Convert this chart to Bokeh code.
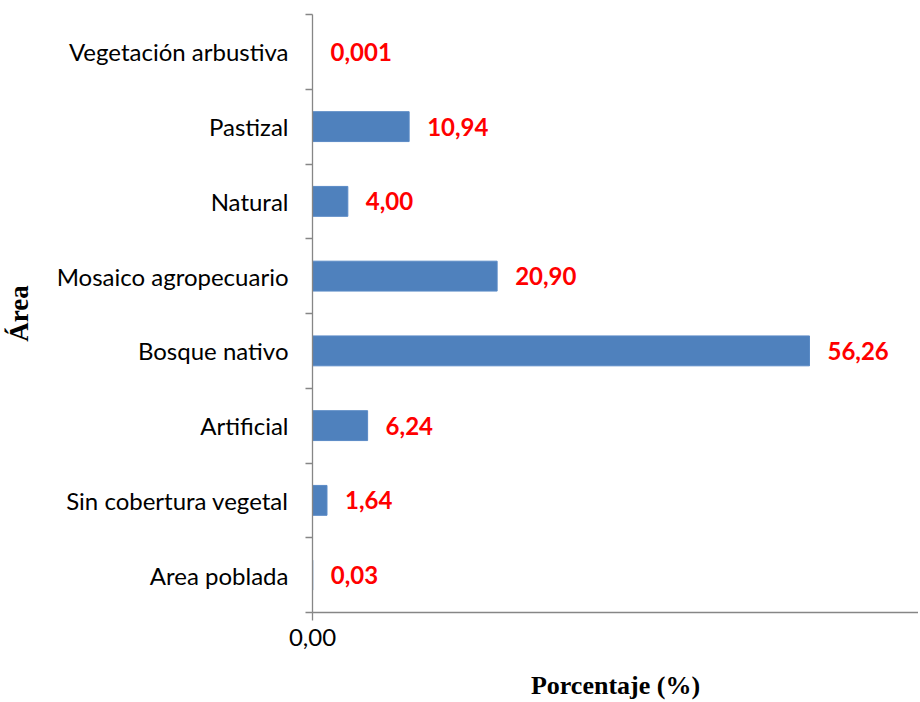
from bokeh.plotting import figure
from bokeh.models import Range1d, LinearAxis, FixedTicker, ColumnDataSource
from bokeh.core.properties import value
from bokeh.embed import file_html
from bokeh.resources import INLINE

# Data (bottom to top)
categories = ["Area poblada", "Sin cobertura vegetal", "Artificial", "Bosque nativo",
              "Mosaico agropecuario", "Natural", "Pastizal", "Vegetación arbustiva"]
percentages = [0.03, 1.64, 6.24, 56.26, 20.90, 4.00, 10.94, 0.001]
value_labels = ["0,03", "1,64", "6,24", "56,26", "20,90", "4,00", "10,94", "0,001"]
x_ticks = [0]
x_tick_labels = {0: "0,00"}

AXIS_COLOR = "#868686"
BAR_COLOR = "#4F81BD"
LABEL_FONT = "Lato"

n = len(categories)
centers = [i + 0.5 for i in range(n)]
src = ColumnDataSource(dict(y=centers, val=percentages, lab=value_labels))

p = figure(width=918, height=702,
           y_range=Range1d(0, n),
           x_range=Range1d(0, 68.6),
           y_axis_location=None,
           output_backend="svg", toolbar_location=None,
           min_border_left=312, min_border_right=0, min_border_top=14,
           min_border_bottom=85)
p.outline_line_color = None
p.xgrid.visible = False
p.ygrid.visible = False
p.background_fill_color = "white"
p.border_fill_color = "white"

# Inner axis: tick marks at category boundaries
tick_axis = LinearAxis(ticker=FixedTicker(ticks=list(range(n + 1))),
                       major_label_text_font_size="0px", major_label_standoff=0,
                       major_label_overrides={i: "" for i in range(n + 1)},
                       major_tick_out=7, major_tick_in=0,
                       minor_tick_out=0, minor_tick_in=0,
                       axis_line_color=AXIS_COLOR, major_tick_line_color=AXIS_COLOR,
                       axis_line_width=1.3, major_tick_line_width=1.3)
p.add_layout(tick_axis, "left")

# Outer axis: category labels
cat_axis = LinearAxis(ticker=FixedTicker(ticks=centers),
                      major_label_overrides={c: name for c, name in zip(centers, categories)},
                      axis_line_color=None, major_tick_line_color=None,
                      major_tick_out=0, major_tick_in=0,
                      minor_tick_out=0, minor_tick_in=0, minor_tick_line_color=None,
                      major_label_standoff=17,
                      major_label_text_font=LABEL_FONT,
                      major_label_text_font_size="24px",
                      major_label_text_color="black",
                      axis_label="Área",
                      axis_label_text_font="Liberation Serif",
                      axis_label_text_font_style="bold",
                      axis_label_text_font_size="27px",
                      axis_label_text_color="black",
                      axis_label_standoff=20)
p.add_layout(cat_axis, "left")

# X axis
xa = p.xaxis[0]
xa.ticker = FixedTicker(ticks=x_ticks)
xa.major_label_overrides = x_tick_labels
xa.major_tick_out = 8
xa.major_tick_in = 0
xa.minor_tick_out = 0
xa.minor_tick_in = 0
xa.axis_line_color = AXIS_COLOR
xa.major_tick_line_color = AXIS_COLOR
xa.axis_line_width = 1.3
xa.major_tick_line_width = 1.3
xa.major_label_text_font = LABEL_FONT
xa.major_label_text_font_size = "24px"
xa.major_label_text_color = "black"
xa.major_label_standoff = 8
xa.axis_label = "Porcentaje (%)"
xa.axis_label_text_font = "Liberation Serif"
xa.axis_label_text_font_style = "bold"
xa.axis_label_text_font_size = "26px"
xa.axis_label_text_color = "black"
xa.axis_label_standoff = 22

p.hbar(y="y", right="val", left=0, height=0.4, source=src,
       fill_color=BAR_COLOR, line_color="#5A8AC6", line_width=1)

p.text(x="val", y="y", text="lab", source=src, x_offset=18,
       text_font=value(LABEL_FONT), text_font_style="bold",
       text_font_size="24px", text_color="#FF0000",
       text_baseline="middle", text_align="left")

open("out.html", "w").write(file_html(p, INLINE))
